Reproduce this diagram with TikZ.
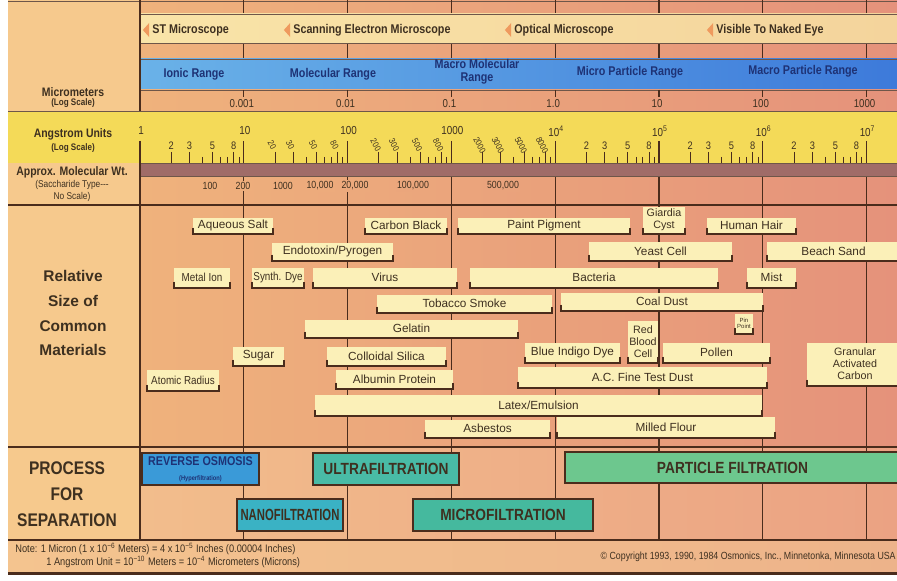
\documentclass[tikz,border=0pt]{standalone}
\usepackage{fontspec}
\setmainfont{Liberation Sans}
\newfontfamily\narrowfont[FakeStretch=0.85]{Liberation Sans}
\newfontfamily\condfont[FakeStretch=0.7]{Liberation Sans}
\usetikzlibrary{calc}
\definecolor{osInk}{HTML}{4A2C1C}
\definecolor{osText}{HTML}{3E3020}
\definecolor{osTan}{HTML}{F6C98D}
\definecolor{osPeach}{HTML}{EFB27C}
\definecolor{osSalmon}{HTML}{E5927B}
\definecolor{osProcL}{HTML}{F2BD8C}
\definecolor{osProcR}{HTML}{EBA283}
\definecolor{osFootL}{HTML}{F4C48F}
\definecolor{osFootR}{HTML}{EDB38A}
\definecolor{osCream}{HTML}{F9E4A8}
\definecolor{osCreamR}{HTML}{F4D49C}
\definecolor{osYellow}{HTML}{F4DA58}
\definecolor{osBlueL}{HTML}{6AB2E8}
\definecolor{osBlueR}{HTML}{3D7ADA}
\definecolor{osNavy}{HTML}{1E3275}
\definecolor{osMauve}{HTML}{A06C68}
\definecolor{osBox}{HTML}{FBF0B8}
\definecolor{osTri}{HTML}{EF9A5E}
\definecolor{osRO}{HTML}{3A9AD8}
\definecolor{osUF}{HTML}{49BBA6}
\definecolor{osNF}{HTML}{3AB2C4}
\definecolor{osMF}{HTML}{45B99E}
\definecolor{osPF}{HTML}{6DC78E}
\tikzset{
  decline/.style  ={draw=osInk,line width=0.6pt},
  hline/.style    ={draw=osInk!80,line width=0.5pt},
  tri/.style      ={fill=osTri},
  scopelbl/.style ={inner sep=0pt,text=osText,font=\narrowfont\bfseries\fontsize{7.2}{8}\selectfont},
  rangelbl/.style ={inner sep=0pt,text=osNavy,align=center,
                    font=\narrowfont\bfseries\fontsize{7.2}{7.6}\selectfont},
  umnum/.style    ={inner sep=0pt,text=osText,font=\narrowfont\fontsize{6.5}{7}\selectfont},
  angnum/.style   ={inner sep=0pt,text=osText,font=\narrowfont\fontsize{6.2}{7}\selectfont},
  angrot/.style   ={angnum,rotate=-62,font=\narrowfont\fontsize{5}{6}\selectfont},
  molnum/.style   ={inner sep=0.8pt,text=osText,font=\narrowfont\fontsize{5.9}{7}\selectfont},
  sidelbl/.style  ={inner sep=0pt,text=osText,align=center,
                    font=\narrowfont\bfseries\fontsize{7}{7.6}\selectfont},
  sidesub/.style  ={inner sep=0pt,text=osText,align=center,
                    font=\narrowfont\bfseries\fontsize{5.4}{6.3}\selectfont},
  matbox/.style   ={fill=osBox,inner sep=0pt,text=osText,align=center,
                    font=\fontsize{6.7}{7.4}\selectfont},
  matstd/.style   ={},
  matsm/.style    ={font=\narrowfont\fontsize{6.6}{7}\selectfont},
  matml/.style    ={font=\fontsize{6.1}{6.8}\selectfont},
  mattn/.style    ={font=\fontsize{3.4}{3.6}\selectfont},
  brk/.style      ={draw=osInk,line width=1pt},
  procbox/.style  ={draw=osInk,line width=0.8pt,inner sep=0pt,text=osText,align=center,
                    minimum height=0.64cm,
                    font=\narrowfont\bfseries\fontsize{9.2}{10}\selectfont},
  foot/.style     ={inner sep=0pt,text=osText,font=\narrowfont\fontsize{6.2}{7}\selectfont},
}
\begin{document}
\begin{tikzpicture}[x=0.02cm,y=-0.02cm]
\useasboundingbox (0,0) rectangle (897,581);
\fill[white] (0,0) rectangle (897,581);
% backgrounds
\fill[osTan] (8,0) rectangle (140,540);
\shade[left color=osPeach,right color=osSalmon] (140,0) rectangle (897,447);
\shade[left color=osProcL,right color=osProcR] (140,447) rectangle (897,540);
\shade[left color=osFootL,right color=osFootR] (8,540) rectangle (897,573);
\draw[osInk,line width=1.2pt] (8,573.5) -- (897,573.5);
\draw[hline] (8,1) -- (897,1);

\foreach \k in {1,...,7}
  \draw[decline] ({140+103.8*\k},0) -- ({140+103.8*\k},540);

% bands
\shade[left color=osCream,right color=osCreamR] (140,14) rectangle (897,43);
\shade[left color=osBlueL,right color=osBlueR] (140,59) rectangle (897,90);
\shade[left color=osPeach,right color=osSalmon] (140,90) rectangle (897,111);
\fill[osYellow] (8,111) rectangle (897,163);
\fill[osMauve] (140,163) rectangle (897,176);
\draw[hline] (140,14) -- (897,14) (140,43) -- (897,43) (140,59) -- (897,59)
  (140,90) -- (897,90) (8,111) -- (897,111) (140,163) -- (897,163) (140,176) -- (897,176);
\draw[decline] (8,205) -- (897,205) (8,447) -- (897,447) (8,540) -- (897,540);

% angstrom scale
\begin{scope}
\clip (140,111) rectangle (897,163);
\foreach \k in {0,...,7} {
  \draw[decline] ({140+103.8*\k},141) -- ({140+103.8*\k},163);
  \foreach \m in {4,6,7,9}
    \draw[osInk,line width=0.5pt] ({140+103.8*(\k+log10(\m))},157) -- ++(0,6);
  \foreach \m in {2,3,5,8}
    \draw[osInk,line width=0.5pt] ({140+103.8*(\k+log10(\m))},152) -- ++(0,11);
}
\end{scope}
\foreach \k/\suf in {0/{},4/{},5/{},6/{}}
  \foreach \m in {2,3,5,8}
    \node[angnum] (ang\k\m) at ({140+103.8*(\k+log10(\m))},146) {\m\suf};
\foreach \k/\suf in {1/0,2/00,3/000}
  \foreach \m in {2,3,5,8}
    \node[angrot] (ang\k\m) at ({137+103.8*(\k+log10(\m))},145) {\m\suf};
\foreach \k/\lab in {0/1,1/10,2/100,3/1000,4/10\textsuperscript{4},5/10\textsuperscript{5},
                     6/10\textsuperscript{6},7/10\textsuperscript{7}}
  \node[angnum,font=\narrowfont\fontsize{6.6}{7}\selectfont] (dec\k) at ({141+103.8*\k},131) {\lab};

% micrometers
\foreach \k/\lab in {1/0.001,2/0.01,3/0.1,4/1.0,5/10,6/100,7/1000} {
  \draw[decline] ({140+103.8*\k},90) -- ({140+103.8*\k},97);
  \node[umnum] (um\k) at ({138+103.8*\k},104) {\lab};
}

% molecular weight
\foreach \i/\tx/\lab in {1/210/100,2/243/200,3/283/1000,4/320/{10,000},5/355/{20,000},
                         6/413/{100,000},7/503/{500,000}} {
  \pgfmathtruncatemacro\p{(\tx-140)/7.57}
  \node[molnum,fill=osSalmon!\p!osPeach] (mw\i) at (\tx,186) {\lab};
}

% microscopes
\foreach \nm/\tx/\lab in {stm/152/ST Microscope,sem/293/Scanning Electron Microscope,
                          opt/514/Optical Microscope,eye/716/Visible To Naked Eye} {
  \node[scopelbl,anchor=west] (\nm) at (\tx,30) {\lab};
  \fill[tri] ([xshift=-5.2pt]\nm.west) -- ([xshift=-1.6pt,yshift=4pt]\nm.west)
    -- ([xshift=-1.6pt,yshift=-4pt]\nm.west) -- cycle;
}

% ranges
\foreach \nm/\tx/\ty/\lab in {ionic/194/74/Ionic Range,molec/333/74/Molecular Range,
    macmol/477/72/{Macro Molecular\\Range},micpart/630/72/Micro Particle Range,
    macpart/803/71/Macro Particle Range}
  \node[rangelbl] (\nm) at (\tx,\ty) {\lab};

% left column
\node[sidelbl] (umhead) at (73,92) {Micrometers};
\node[sidesub] (umsub) at (73,103) {(Log Scale)};
\node[sidelbl] (anghead) at (73,134) {Angstrom Units};
\node[sidesub] (angsub) at (73,148) {(Log Scale)};
\node[sidelbl] (mwhead) at (72,172) {Approx. Molecular Wt.};
\node[sidesub,font=\narrowfont\fontsize{5.6}{6.4}\selectfont] (mwsub) at (72,191)
  {(Saccharide Type---\\No Scale)};
\node[inner sep=0pt,text=osText,align=center,font=\bfseries\fontsize{8.8}{14.2}\selectfont]
  (relsize) at (73,313) {Relative\\Size of\\Common\\Materials};
\node[inner sep=0pt,text=osText,align=center,font=\narrowfont\bfseries\fontsize{10.4}{14.8}\selectfont]
  (procsep) at (67,494) {PROCESS\\FOR\\SEPARATION};

% materials
\foreach \n/\xa/\ya/\xb/\yb/\s/\t in {
    aqsalt/193/218/273/233/matstd/Aqueous Salt,
    carbon/365/218/447/233/matstd/Carbon Black,
    paint/458/218/630/233/matstd/Paint Pigment,
    giardia/643/207/685/233/matml/{Giardia\\Cyst},
    hair/707/218/796/233/matstd/Human Hair,
    endo/272/243/393/260/matstd/{Endotoxin/Pyrogen},
    yeast/589/242/732/260/matstd/Yeast Cell,
    sand/767/242/900/260/matstd/Beach Sand,
    metal/174/268/230/287/matsm/Metal Ion,
    synth/252/268/304/287/matsm/Synth. Dye,
    virus/313/268/457/287/matstd/Virus,
    bact/470/268/718/287/matstd/Bacteria,
    mist/747/268/796/287/matstd/Mist,
    tobacco/377/295/552/312/matstd/Tobacco Smoke,
    coal/561/293/763/310/matstd/Coal Dust,
    gelatin/305/320/518/337/matstd/Gelatin,
    pin/735/314/753/333/mattn/{Pin\\Point},
    rbc/628/321/658/362/matml/{Red\\Blood\\Cell},
    sugar/233/347/284/365/matstd/Sugar,
    silica/327/347/446/365/matstd/Colloidal Silica,
    indigo/525/343/620/362/matstd/Blue Indigo Dye,
    pollen/663/343/770/362/matstd/Pollen,
    gac/807/343/903/385/matml/{Granular\\Activated\\Carbon},
    atomic/147/370/219/390/matsm/Atomic Radius,
    albumin/336/370/453/388/matstd/Albumin Protein,
    acdust/518/367/767/387/matstd/A.C. Fine Test Dust,
    latex/315/395/762/415/matstd/{Latex/Emulsion},
    asbestos/425/420/550/437/matstd/Asbestos,
    flour/557/417/775/437/matstd/Milled Flour} {
  \pgfmathsetmacro\w{(\xb-\xa)*0.02}
  \pgfmathsetmacro\h{(\yb-\ya)*0.02}
  \node[matbox,\s,minimum width=\w cm,minimum height=\h cm] (\n)
    at ({(\xa+\xb)/2},{(\ya+\yb)/2}) {\t};
}
\foreach \n in {aqsalt,carbon,paint,giardia,hair,endo,yeast,sand,metal,synth,virus,bact,
                mist,tobacco,coal,gelatin,pin,rbc,sugar,silica,indigo,pollen,gac,atomic,
                albumin,acdust,latex,asbestos,flour}
  \draw[brk] ([yshift=3.2pt]\n.south west) |- ([yshift=-0.5pt]\n.south east)
    -- ([yshift=3.2pt]\n.south east);

% separation processes
\node[procbox,fill=osRO,minimum width=2.34cm] (ro) at (200.5,469)
  {{\color{osNavy}\fontsize{7.2}{7.4}\selectfont REVERSE OSMOSIS}\\[-1.5pt]
   {\color{osNavy}\fontsize{3.8}{4}\selectfont (Hyperfiltration)}};
\node[procbox,fill=osUF,minimum width=2.92cm] (uf) at (386,469) {ULTRAFILTRATION};
\node[procbox,fill=osPF,minimum width=6.7cm,minimum height=0.62cm] (pf) at (732.5,467.5)
  {PARTICLE FILTRATION};
\node[procbox,fill=osNF,minimum width=2.12cm,font=\condfont\bfseries\fontsize{9.2}{10}\selectfont]
  (nf) at (290,515) {NANOFILTRATION};
\node[procbox,fill=osMF,minimum width=3.6cm] (mf) at (503,515) {MICROFILTRATION};

% note
\node[foot,anchor=west] (note1) at (15,549)
  {Note: 1 Micron (1 x 10\textsuperscript{−6} Meters) = 4 x 10\textsuperscript{−5} Inches (0.00004 Inches)};
\node[foot,anchor=west] (note2) at (46,562)
  {1 Angstrom Unit = 10\textsuperscript{−10} Meters = 10\textsuperscript{−4} Micrometers (Microns)};
\node[foot,anchor=east,font=\narrowfont\fontsize{5.9}{7}\selectfont] (copyr) at (896,557)
  {\textcopyright{} Copyright 1993, 1990, 1984 Osmonics, Inc., Minnetonka, Minnesota USA};

\draw[osInk,line width=1.3pt] (140,0) -- (140,111) (140,141) -- (140,540);
\end{tikzpicture}
\end{document}
